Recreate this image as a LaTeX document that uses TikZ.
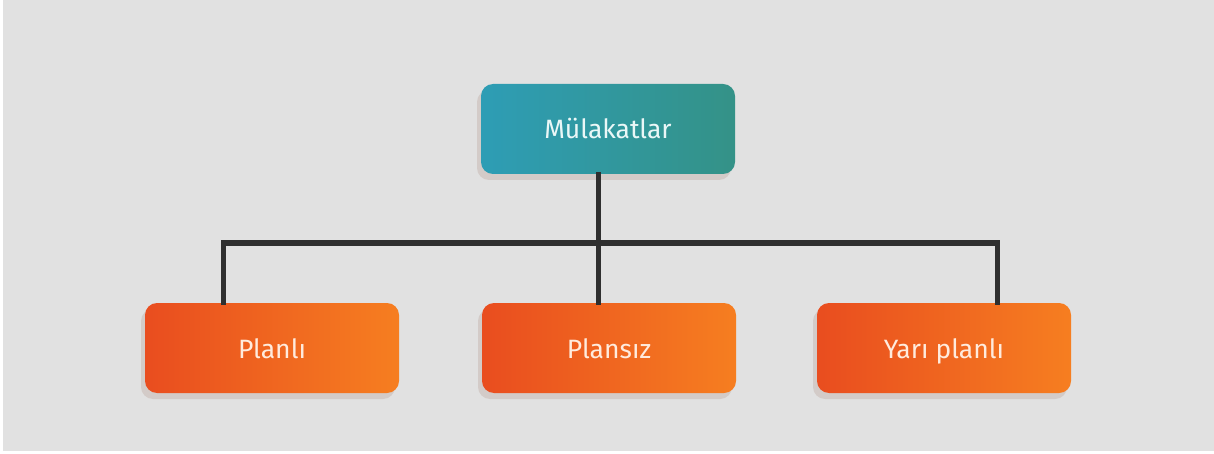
\documentclass[tikz,border=0pt]{standalone}
\usepackage{fontspec}
\setmainfont{Fira Sans}
\usetikzlibrary{calc}
\definecolor{bg}{HTML}{E1E1E1}
\definecolor{tealL}{HTML}{2E9DB5}
\definecolor{tealR}{HTML}{349287}
\definecolor{orL}{HTML}{E94D1F}
\definecolor{orR}{HTML}{F67E20}
\definecolor{shade}{HTML}{D3CBC8}
\definecolor{wire}{HTML}{2F2F2F}
\definecolor{txtT}{HTML}{EAF7F7}
\definecolor{txtO}{HTML}{FFEBDD}
\tikzset{
  card/.style={rectangle, rounded corners=12pt, minimum width=254pt, minimum height=90pt,
    inner sep=0pt, text height=22pt, text depth=2pt,
    font=\fontsize{26.5}{30}\selectfont,
    preaction={fill=shade, transform canvas={xshift=-4pt, yshift=-6pt}}},
  headcard/.style={card, left color=tealL, right color=tealR, text=txtT},
  leafcard/.style={card, left color=orL, right color=orR, text=txtO},
  wireline/.style={draw=wire, line width=5pt, line cap=rect}
}
\begin{document}
\begin{tikzpicture}[x=1pt, y=-1pt]
  % canvas
  \fill[white] (0,0) rectangle (1214,454);
  \fill[bg] (3,0) rectangle (1214,451);
  \useasboundingbox (0,0) rectangle (1214,454);

  % boxes
  \node[headcard] (top) at (608,129) {Mülakatlar};
  \node[leafcard] (p1) at (272,348) {Planlı};
  \node[leafcard] (p2) at (609,348) {Plansız};
  \node[leafcard] (p3) at (944,348) {Yarı planlı};

  % bus line and drops
  \coordinate (bus) at (598,243);
  \coordinate (d1) at ($(p1.north)+(-49,0)$);
  \coordinate (d3) at ($(p3.north)+(53,0)$);
  \coordinate (t1) at ($(top.south)+(-10,0)$);
  \draw[wireline] (t1) -- (t1 |- p2.north);
  \draw[wireline] (d1) -- (d1 |- bus) -- (d3 |- bus) -- (d3);
\end{tikzpicture}
\end{document}
